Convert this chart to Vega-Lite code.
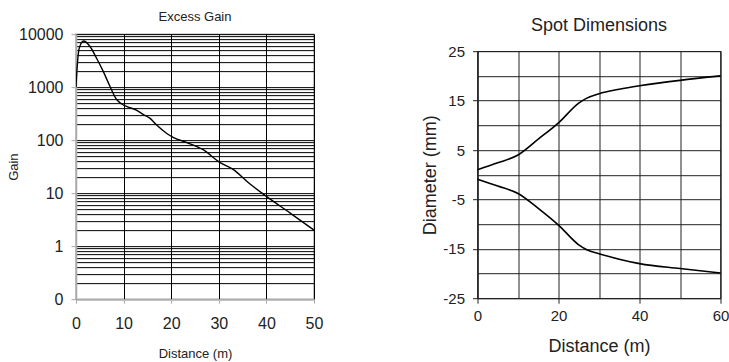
{
  "$schema": "https://vega.github.io/schema/vega-lite/v6.json",
  "padding": {"left": 6, "top": 10, "right": 0, "bottom": 0},
  "background": "white",
  "config": {
    "font": "Liberation Sans",
    "title": {"fontWeight": "normal", "color": "#222"},
    "axis": {"labelColor": "#222", "titleColor": "#222", "titleFontWeight": "normal", "labelFlush": false}
  },
  "datasets": {
    "gain": [
      {"x": 0, "g": 1000}, {"x": 0.3, "g": 2800}, {"x": 0.7, "g": 5500}, {"x": 1.6, "g": 7400},
      {"x": 2.9, "g": 5900}, {"x": 4.3, "g": 3550}, {"x": 5.7, "g": 2000}, {"x": 7.1, "g": 1050},
      {"x": 8.5, "g": 590}, {"x": 9.6, "g": 480}, {"x": 11, "g": 420}, {"x": 12.7, "g": 370},
      {"x": 14, "g": 310}, {"x": 15.5, "g": 260}, {"x": 17, "g": 190}, {"x": 19, "g": 135},
      {"x": 20.5, "g": 112}, {"x": 23.3, "g": 90}, {"x": 26.7, "g": 66}, {"x": 30.2, "g": 38},
      {"x": 33, "g": 28}, {"x": 36.5, "g": 15}, {"x": 40, "g": 8.7}, {"x": 45, "g": 4.2}, {"x": 50, "g": 2.0}
    ],
    "spot": [
      {"x": 0, "d": 1, "side": "upper"}, {"x": 5, "d": 2.4, "side": "upper"}, {"x": 10, "d": 4, "side": "upper"},
      {"x": 15, "d": 7.2, "side": "upper"}, {"x": 20, "d": 10.5, "side": "upper"}, {"x": 25, "d": 14.5, "side": "upper"},
      {"x": 27, "d": 15.5, "side": "upper"}, {"x": 30, "d": 16.4, "side": "upper"}, {"x": 35, "d": 17.3, "side": "upper"},
      {"x": 40, "d": 18, "side": "upper"}, {"x": 50, "d": 19.1, "side": "upper"}, {"x": 60, "d": 20, "side": "upper"},
      {"x": 0, "d": -0.9, "side": "lower"}, {"x": 5, "d": -2.3, "side": "lower"}, {"x": 10, "d": -3.8, "side": "lower"},
      {"x": 15, "d": -6.8, "side": "lower"}, {"x": 20, "d": -10.2, "side": "lower"}, {"x": 25, "d": -14.2, "side": "lower"},
      {"x": 27, "d": -15.2, "side": "lower"}, {"x": 30, "d": -16, "side": "lower"}, {"x": 35, "d": -17.1, "side": "lower"},
      {"x": 40, "d": -18, "side": "lower"}, {"x": 50, "d": -19, "side": "lower"}, {"x": 60, "d": -19.9, "side": "lower"}
    ]
  },
  "center": true,
  "spacing": 96.5,
  "hconcat": [
    {
      "width": 238,
      "height": 265,
      "title": {"text": "Excess Gain", "fontSize": 13, "offset": 2},
      "data": {"name": "gain"},
      "view": {"stroke": "#aaa", "strokeWidth": 1.5},
      "mark": {"type": "line", "color": "black", "strokeWidth": 1.4, "interpolate": "monotone", "clip": true},
      "encoding": {
        "x": {
          "field": "x", "type": "quantitative",
          "scale": {"domain": [0, 50], "nice": false},
          "axis": {
            "title": ["Distance (m)", ""], "titleFontSize": 13, "titleLineHeight": 12, "titlePadding": 16,
            "values": [0, 10, 20, 30, 40, 50],
            "grid": true, "gridColor": "black", "gridWidth": 1,
            "domainColor": "#aaa", "domainWidth": 1.5, "tickColor": "#aaa", "tickSize": 4,
            "labelFontSize": 16, "labelPadding": 12
          }
        },
        "y": {
          "field": "g", "type": "quantitative",
          "scale": {"type": "log", "domain": [0.1, 10000], "nice": false},
          "axis": {
            "title": "Gain", "titleFontSize": 13, "titlePadding": -2,
            "values": [0.1, 0.2, 0.3, 0.4, 0.5, 0.6, 0.7, 0.8, 0.9, 1, 2, 3, 4, 5, 6, 7, 8, 9, 10, 20, 30, 40, 50, 60, 70, 80, 90, 100, 200, 300, 400, 500, 600, 700, 800, 900, 1000, 2000, 3000, 4000, 5000, 6000, 7000, 8000, 9000, 10000],
            "labelExpr": "datum.value == 0.1 ? '0' : datum.value == 1 ? '1' : datum.value == 10 ? '10' : datum.value == 100 ? '100' : datum.value == 1000 ? '1000' : datum.value == 10000 ? '10000' : ''",
            "tickOpacity": {"condition": {"test": "indexof([0.1, 1, 10, 100, 1000, 10000], datum.value) >= 0", "value": 1}, "value": 0},
            "grid": true, "gridColor": "black", "gridWidth": 1,
            "domainColor": "#aaa", "domainWidth": 1.5, "tickColor": "#aaa", "tickSize": 5,
            "labelFontSize": 16, "labelPadding": 8, "labelOverlap": false, "labelBound": false
          }
        }
      }
    },
    {
      "width": 243,
      "height": 247,
      "title": {"text": "Spot Dimensions", "fontSize": 18, "offset": 9},
      "data": {"name": "spot"},
      "view": {"stroke": "#222", "strokeWidth": 1.2},
      "mark": {"type": "line", "color": "black", "strokeWidth": 1.6, "interpolate": "monotone"},
      "encoding": {
        "x": {
          "field": "x", "type": "quantitative",
          "scale": {"domain": [0, 60], "nice": false},
          "axis": {
            "title": "Distance (m)", "titleFontSize": 18, "titlePadding": 14,
            "values": [0, 10, 20, 30, 40, 50, 60],
            "labelExpr": "datum.value % 20 == 0 ? datum.label : ''",
            "tickOpacity": {"condition": {"test": "datum.value % 20 == 0", "value": 1}, "value": 0},
            "grid": true, "gridColor": "#222", "gridWidth": 1,
            "domainColor": "#222", "tickColor": "#222", "tickSize": 5,
            "labelFontSize": 15, "labelPadding": 5
          }
        },
        "y": {
          "field": "d", "type": "quantitative",
          "scale": {"domain": [-25, 25], "nice": false},
          "axis": {
            "title": "Diameter (mm)", "titleFontSize": 18, "titlePadding": 3,
            "values": [-25, -20, -15, -10, -5, 0, 5, 10, 15, 20, 25],
            "labelExpr": "(datum.value + 25) % 10 == 0 ? toString(datum.value) : ''",
            "tickOpacity": {"condition": {"test": "(datum.value + 25) % 10 == 0", "value": 1}, "value": 0},
            "grid": true, "gridColor": "#222", "gridWidth": 1,
            "domainColor": "#222", "tickColor": "#222", "tickSize": 5,
            "labelFontSize": 15, "labelPadding": 8, "labelOverlap": false
          }
        },
        "detail": {"field": "side", "type": "nominal"}
      }
    }
  ]
}
